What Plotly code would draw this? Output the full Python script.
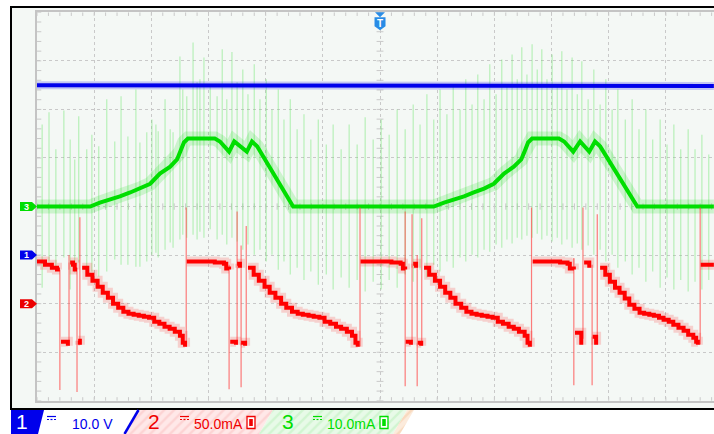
import plotly.graph_objects as go

# ======================= DATA =======================
# time axis: divisions from the left edge of the screen (trigger at 6 div)

# Channel 1 (blue) in volts
ch1_t = [0.00, 2.24, 2.26, 2.69, 2.71, 5.30, 5.32, 5.80, 5.82, 8.33, 8.35, 8.83, 8.85, 11.38, 11.40, 11.84]
ch1_v = [35.0, 35.0, 34.8, 34.8, 35.0, 35.0, 34.8, 34.8, 35.0, 35.0, 34.8, 34.8, 35.0, 35.0, 34.8, 34.8]

# Channel 2 (red) in mA  (None = break in the bold trace)
ch2_t = [
    0.00, 0.10, 0.14, 0.23, 0.26, 0.33, 0.35, 0.40, None,
    0.42, 0.54, None,
    0.58, 0.63, 0.66, 0.70, None,
    0.72, 0.75, None,
    0.79, 0.88, 0.97, 1.06, 1.15, 1.24, 1.33, 1.42, 1.51, 1.60, 1.69, 1.78, 1.87, 1.96, 2.05, 2.14, 2.23, 2.32, 2.41, 2.50, 2.55, 2.59, None,
    2.62, 2.85, 3.11, 3.27, 3.31, 3.36, None,
    3.38, 3.48, None,
    3.50, 3.55, None,
    3.57, 3.64, None,
    3.69, 3.79, 3.88, 3.98, 4.07, 4.17, 4.27, 4.36, 4.46, 4.56, 4.65, 4.75, 4.84, 4.94, 5.03, 5.13, 5.23, 5.32, 5.42, 5.51, 5.57, 5.61, None,
    5.66, 5.90, 6.20, 6.36, 6.40, 6.44, None,
    6.45, 6.54, None,
    6.58, 6.63, None,
    6.66, 6.72, None,
    6.77, 6.86, 6.96, 7.05, 7.14, 7.23, 7.32, 7.42, 7.51, 7.60, 7.69, 7.78, 7.88, 7.97, 8.06, 8.15, 8.25, 8.34, 8.43, 8.53, 8.58, 8.62, None,
    8.67, 8.90, 9.15, 9.28, 9.32, 9.39, None,
    9.41, 9.52, None,
    9.57, 9.66, None,
    9.72, 9.78, None,
    9.85, 9.94, 10.02, 10.11, 10.19, 10.28, 10.36, 10.45, 10.54, 10.62, 10.71, 10.79, 10.88, 10.96, 11.05, 11.13, 11.22, 11.31, 11.39, 11.48, 11.53, 11.56, None,
    11.61, 11.84,
]
ch2_i = [
    43.3, 43.3, 40.2, 40.2, 37.1, 37.1, 35.1, 35.1, None,
    -39.2, -43.3, None,
    42.3, 40.2, 35.1, 35.1, None,
    -38.1, -42.3, None,
    37.1, 29.9, 23.7, 17.5, 11.3, 6.2, 0.0, -4.1, -8.2, -10.3, -11.3, -12.4, -13.4, -14.4, -18.6, -20.6, -23.7, -25.8, -28.9, -33.0, -40.2, -44.3, None,
    43.3, 43.3, 42.3, 41.2, 36.1, 35.1, None,
    -39.2, -42.3, None,
    41.2, 37.1, None,
    -40.2, -43.3, None,
    37.1, 29.9, 23.7, 17.5, 11.3, 6.2, 0.0, -4.1, -8.2, -10.3, -11.3, -12.4, -13.4, -14.4, -18.6, -20.6, -23.7, -25.8, -28.9, -33.0, -40.2, -44.3, None,
    43.3, 43.3, 42.3, 41.2, 36.1, 35.1, None,
    -39.2, -42.3, None,
    41.2, 37.1, None,
    -40.2, -43.3, None,
    37.1, 29.9, 23.7, 17.5, 11.3, 6.2, 0.0, -4.1, -8.2, -10.3, -11.3, -12.4, -13.4, -14.4, -18.6, -20.6, -23.7, -25.8, -28.9, -33.0, -40.2, -44.3, None,
    43.3, 43.3, 42.3, 41.2, 36.1, 35.1, None,
    -29.9, -42.3, None,
    42.3, 37.1, None,
    -34.0, -42.3, None,
    37.1, 29.9, 22.7, 16.5, 11.3, 5.2, -1.0, -5.2, -9.3, -10.3, -11.3, -12.4, -14.4, -16.5, -18.6, -21.6, -24.7, -27.8, -32.0, -35.1, -39.2, -42.3, None,
    40.2, 40.2,
]
# thin fast transients on channel 2 (time, top mA, bottom mA)
ch2_spk_t = [0.40, 0.56, 0.70, 0.75, 2.61, 3.36, 3.50, 3.57, 3.66, 5.65, 6.44, 6.56, 6.65, 6.73, 8.65, 9.39, 9.55, 9.71, 9.80, 11.60]
ch2_spk_hi = [35, 50, 37, 89, 99, 40, 95, 60, 80, 99, 95, 92, 50, 88, 99, 47, 99, 40, 92, 99]
ch2_spk_lo = [-89, -43, -91, -42, -44, -88, -42, -86, -43, -44, -85, -42, -85, -43, -44, -84, -36, -84, -35, -42]

# Channel 3 (green) in mA
ch3_t = [0.00, 0.93, 1.10, 1.28, 1.45, 1.63, 1.80, 1.98, 2.15, 2.33, 2.45, 2.50, 2.57, 2.64, 3.11, 3.20, 3.36, 3.45, 3.67, 3.76, 3.85, 4.48,
         6.94, 7.12, 7.29, 7.47, 7.64, 7.82, 7.99, 8.17, 8.34, 8.47, 8.52, 8.59, 8.66, 9.13, 9.22, 9.38, 9.50, 9.66, 9.76, 9.85, 10.50, 11.84]
ch3_i = [0.0, 0.0, 0.8, 1.4, 2.1, 2.9, 3.7, 4.7, 6.8, 8.2, 9.7, 11.1, 13.2, 14.0, 14.0, 13.4, 11.3, 13.4, 11.3, 13.4, 12.4, 0.0,
         0.0, 0.8, 1.4, 2.1, 2.9, 3.7, 4.7, 6.8, 8.2, 9.7, 11.1, 13.2, 14.0, 14.0, 13.4, 11.3, 13.4, 11.3, 13.4, 12.4, 0.0, 0.0]
# switching spikes on channel 3 (time, top mA, bottom mA)
ch3_spk_t = [0.09, 0.21, 0.33, 0.47, 0.58, 0.66, 0.73, 0.87, 0.96, 1.08, 1.22, 1.36, 1.47, 1.59, 1.73, 1.80, 1.92, 2.01, 2.08, 2.12,
             2.24, 2.33, 2.38, 2.50, 2.55, 2.62, 2.73, 2.80, 2.85, 2.92, 3.03, 3.15, 3.24, 3.32, 3.41, 3.50, 3.60, 3.69, 3.80, 3.90,
             4.01, 4.11, 4.22, 4.32, 4.43, 4.55, 4.67, 4.79, 4.92, 5.06, 5.18, 5.32, 5.46, 5.60, 5.74, 5.88, 6.02, 6.16, 6.30, 6.44,
             6.58, 6.70, 6.82, 6.94, 7.05, 7.17, 7.28, 7.40, 7.50, 7.61, 7.71, 7.82, 7.92, 8.03, 8.13, 8.22, 8.31, 8.40, 8.48, 8.57,
             8.66, 8.75, 8.83, 8.92, 9.01, 9.10, 9.18, 9.27, 9.36, 9.45, 9.53, 9.64, 9.74, 9.85, 9.95, 10.06, 10.16, 10.29, 10.41, 10.53,
             10.65, 10.77, 10.90, 11.02, 11.14, 11.26, 11.39, 11.51, 11.63, 11.75]
ch3_spk_hi = [16.9, 19.4, 11.8, 19.8, 13.8, 9.7, 18.6, 11.8, 14.8, 12.4, 22.1, 13.4, 22.7, 14.4, 24.1, 13.2, 15.3, 17.9, 16.9, 15.5,
              22.1, 15.9, 15.3, 30.9, 24.1, 22.7, 33.8, 25.6, 26.2, 30.7, 25.2, 22.7, 32.4, 22.1, 31.8, 25.6, 28.2, 23.1, 29.3, 22.1,
              26.2, 20.0, 24.1, 17.9, 22.1, 15.9, 19.0, 13.8, 17.9, 12.8, 16.9, 11.8, 16.9, 12.8, 18.4, 13.8, 17.9, 14.8, 20.0, 15.9,
              21.0, 16.9, 23.1, 17.9, 24.1, 19.0, 25.2, 20.0, 26.2, 21.0, 27.2, 22.1, 29.3, 23.1, 30.3, 25.2, 31.3, 26.2, 32.8, 27.2,
              33.4, 28.2, 32.4, 26.2, 31.3, 25.2, 32.0, 24.1, 30.7, 23.1, 29.9, 22.1, 28.2, 21.0, 26.2, 20.0, 24.1, 17.9, 22.1, 15.9,
              20.0, 13.8, 17.9, 12.8, 16.9, 11.8, 15.9, 11.8, 14.8, 10.7]
ch3_spk_lo = [-16.7, -11.3, -13.0, -10.5, -17.1, -13.6, -11.5, -12.6, -13.4, -14.4, -13.4, -10.9, -12.0, -12.0, -12.4, -12.4, -11.3, -9.9, -9.5, -10.5,
              -8.9, -7.4, -8.5, -6.8, -5.8, -6.4, -5.8, -6.8, -5.2, -6.4, -4.7, -6.8, -5.8, -7.8, -6.4, -7.2, -8.9, -7.8, -9.9, -8.9,
              -11.3, -9.9, -13.0, -11.3, -14.0, -12.6, -15.1, -13.4, -16.1, -14.0, -17.1, -14.6, -16.7, -15.1, -17.5, -15.5, -17.1, -15.1, -16.7, -14.0,
              -15.5, -13.0, -14.6, -12.0, -13.4, -11.3, -12.6, -10.5, -11.3, -9.9, -10.5, -8.9, -9.3, -7.8, -8.5, -6.8, -7.6, -6.4, -6.8, -6.0,
              -6.4, -5.6, -6.8, -6.0, -7.2, -6.4, -7.8, -6.8, -8.5, -7.6, -8.9, -8.0, -9.9, -8.9, -11.3, -9.9, -12.6, -11.3, -14.0, -12.6,
              -15.5, -13.4, -16.7, -14.6, -17.1, -15.1, -17.5, -15.5, -17.1, -15.1]

# channel settings
ch_scale = {1: 10.0, 2: 50.0, 3: 10.0}      # units per division
ch_offset = {1: -1.0, 2: -2.0, 3: 0.0}      # divisions
ch_label = {1: "10.0 V", 2: "50.0mA", 3: "10.0mA"}

# ===================== GEOMETRY =====================
W, H = 714, 434
GRID_L, GRID_T, GRID_B = 37.0, 12.3, 400.8
DXP = 57.17
DYP = (GRID_B - GRID_T) / 8.0
X_MAX = (W - GRID_L) / DXP

BLUE = "rgb(0,0,235)"
RED = "rgb(255,0,0)"
GREEN = "rgb(0,222,0)"
GRID_C = "#c9c9c9"
BG = "#f4f8f5"
FONT = "Liberation Sans, Arial, sans-serif"


def to_div(vals, ch):
    return [None if v is None else v / ch_scale[ch] + ch_offset[ch] for v in vals]


def spikes(ts, his, los, ch):
    xs, ys = [], []
    for t, h, l in zip(ts, his, los):
        xs += [t, t, None]
        ys += [h / ch_scale[ch] + ch_offset[ch], l / ch_scale[ch] + ch_offset[ch], None]
    return xs, ys


fig = go.Figure()

# ---- graticule tick marks ----
tx, ty = [], []
def seg(x0, y0, x1, y1):
    tx.extend([x0, x1, None]); ty.extend([y0, y1, None])

for k in range(0, 61):
    xv = k * 0.2
    if xv > X_MAX:
        break
    seg(xv, 4, xv, 4 - 0.075)
    seg(xv, -4, xv, -4 + 0.075)
    seg(xv, -0.065, xv, 0.065)
for k in range(0, 41):
    yv = -4 + k * 0.2
    seg(0, yv, 0.075, yv)
    seg(6 - 0.06, yv, 6 + 0.06, yv)
fig.add_trace(go.Scatter(x=tx, y=ty, mode="lines", line=dict(color=GRID_C, width=1), hoverinfo="skip"))

# ---- channel 3 (green) ----
sx, sy = spikes(ch3_spk_t, ch3_spk_hi, ch3_spk_lo, 3)
fig.add_trace(go.Scatter(x=sx, y=sy, mode="lines", line=dict(color="rgba(110,230,110,0.45)", width=1.2), hoverinfo="skip"))
fig.add_trace(go.Scatter(x=ch3_t, y=to_div(ch3_i, 3), mode="lines", line=dict(color="rgba(0,220,0,0.16)", width=14), hoverinfo="skip"))
fig.add_trace(go.Scatter(x=ch3_t, y=to_div(ch3_i, 3), mode="lines", line=dict(color=GREEN, width=4), hoverinfo="skip"))

# ---- channel 2 (red) ----
sx, sy = spikes(ch2_spk_t, ch2_spk_hi, ch2_spk_lo, 2)
fig.add_trace(go.Scatter(x=sx, y=sy, mode="lines", line=dict(color="rgba(255,70,70,0.7)", width=1.2), hoverinfo="skip"))
fig.add_trace(go.Scatter(x=ch2_t, y=to_div(ch2_i, 2), mode="lines", line=dict(color="rgba(255,0,0,0.16)", width=10, shape="hv"), hoverinfo="skip"))
fig.add_trace(go.Scatter(x=ch2_t, y=to_div(ch2_i, 2), mode="lines", line=dict(color=RED, width=4, shape="hv"), hoverinfo="skip"))

# ---- channel 1 (blue) ----
fig.add_trace(go.Scatter(x=ch1_t, y=to_div(ch1_v, 1), mode="lines", line=dict(color="rgba(0,0,235,0.2)", width=8), hoverinfo="skip"))
fig.add_trace(go.Scatter(x=ch1_t, y=to_div(ch1_v, 1), mode="lines", line=dict(color=BLUE, width=4), hoverinfo="skip"))

# ---- status bar hatch fills (pixel overlay axes) ----
def hatch(xs, ys, fg, bgc):
    fig.add_trace(go.Scatter(x=xs, y=ys, xaxis="x2", yaxis="y2", mode="lines", fill="toself",
                             line=dict(width=0, color=bgc), fillcolor=bgc,
                             fillpattern=dict(shape="/", fgcolor=fg, bgcolor=bgc, size=7, solidity=0.35),
                             hoverinfo="skip"))

hatch([139, 273, 259, 125, 139], [410, 410, 434, 434, 410], "rgb(250,190,190)", "rgb(255,232,232)")
hatch([273, 407, 393, 259, 273], [410, 410, 434, 434, 410], "rgb(185,240,185)", "rgb(232,250,232)")
hatch([407, 414, 400, 393, 407], [410, 410, 434, 434, 410], "rgb(245,200,160)", "rgb(252,235,220)")

shapes = []
ann = []

# light screen background + black frame
shapes.append(dict(type="rect", xref="paper", yref="paper", x0=11 / W, x1=1.02, y0=1 - 409 / H, y1=1 - 7 / H,
                   fillcolor=BG, line=dict(width=0), layer="below"))
shapes.append(dict(type="rect", xref="paper", yref="paper", x0=11 / W, x1=1.02, y0=1 - 409 / H, y1=1 - 7 / H,
                   line=dict(color="black", width=2), layer="above"))

# channel ground markers
tag_col = {1: BLUE, 2: "rgb(235,0,0)", 3: GREEN}
for ch in (3, 1, 2):
    yc = GRID_T + (4 - ch_offset[ch]) * DYP
    shapes.append(dict(type="path", xref="x2", yref="y2",
                       path=f"M20,{yc-4.5} L32,{yc-4.5} L37,{yc} L32,{yc+4.5} L20,{yc+4.5} Z",
                       fillcolor=tag_col[ch], line=dict(width=0)))
    ann.append(dict(xref="x2", yref="y2", x=26.5, y=yc, text=f"<b>{ch}</b>", showarrow=False,
                    font=dict(family=FONT, size=9, color="white")))

# trigger marker
tcx = GRID_L + 6 * DXP
shapes.append(dict(type="path", xref="x2", yref="y2",
                   path=f"M{tcx-5},{GRID_T} L{tcx+5},{GRID_T} L{tcx},{GRID_T+5} Z",
                   fillcolor="rgb(40,140,230)", line=dict(width=0)))
shapes.append(dict(type="path", xref="x2", yref="y2",
                   path=f"M{tcx-5.5},{GRID_T+5} L{tcx+5.5},{GRID_T+5} L{tcx+5.5},{GRID_T+14} L{tcx},{GRID_T+18} L{tcx-5.5},{GRID_T+14} Z",
                   fillcolor="rgb(40,140,230)", line=dict(width=0)))
ann.append(dict(xref="x2", yref="y2", x=tcx, y=GRID_T + 11, text="<b>T</b>", showarrow=False,
                font=dict(family=FONT, size=10, color="white")))

# status bar: channel 1
shapes.append(dict(type="path", xref="x2", yref="y2", path="M11,410 L44,410 L38,434 L11,434 Z",
                   fillcolor=BLUE, line=dict(width=0)))
shapes.append(dict(type="line", xref="x2", yref="y2", x0=138.5, y0=410, x1=124.5, y1=434,
                   line=dict(color=BLUE, width=2.5)))
ann.append(dict(xref="x2", yref="y2", x=21.5, y=421.5, text="1", showarrow=False,
                font=dict(family=FONT, size=21, color="white")))

bar_items = [(1, BLUE, None, 47, 70), (2, "rgb(240,0,0)", 154, 180, 192), (3, GREEN, 288, 313, 325)]
for ch, col, numx, dcx, lblx in bar_items:
    if numx is not None:
        ann.append(dict(xref="x2", yref="y2", x=numx, y=421.5, text=str(ch), showarrow=False,
                        font=dict(family=FONT, size=21, color=col)))
    # DC coupling symbol
    shapes.append(dict(type="line", xref="x2", yref="y2", x0=dcx, x1=dcx + 9, y0=416.5, y1=416.5,
                       line=dict(color=col, width=1.2)))
    for d in range(3):
        shapes.append(dict(type="line", xref="x2", yref="y2", x0=dcx + d * 3.5, x1=dcx + d * 3.5 + 2, y0=419.5, y1=419.5,
                           line=dict(color=col, width=1.2)))
    ann.append(dict(xref="x2", yref="y2", x=lblx, y=423.5, xanchor="left", text=ch_label[ch], showarrow=False,
                    font=dict(family=FONT, size=14, color=col)))
    if ch != 1:
        ix = lblx + 55
        shapes.append(dict(type="rect", xref="x2", yref="y2", x0=ix, x1=ix + 8, y0=416.5, y1=428.5,
                           line=dict(color=col, width=1.3), fillcolor="white"))
        shapes.append(dict(type="rect", xref="x2", yref="y2", x0=ix + 2.2, x1=ix + 5.8, y0=419, y1=426,
                           line=dict(width=0), fillcolor=col))

fig.update_layout(
    width=W, height=H, margin=dict(l=0, r=0, t=0, b=0),
    paper_bgcolor="white", plot_bgcolor="rgba(0,0,0,0)", showlegend=False,
    xaxis=dict(domain=[GRID_L / W, 1], range=[0, X_MAX], dtick=1, tick0=0, showgrid=True,
               gridcolor=GRID_C, griddash="dot", gridwidth=1, zeroline=False, showticklabels=False,
               ticks="", showline=True, linecolor="#c4c4c4", linewidth=1.5, mirror=True, fixedrange=True),
    yaxis=dict(domain=[1 - GRID_B / H, 1 - GRID_T / H], range=[-4, 4], dtick=1, tick0=-4, showgrid=True,
               gridcolor=GRID_C, griddash="dot", gridwidth=1, zeroline=False, showticklabels=False,
               ticks="", showline=True, linecolor="#c4c4c4", linewidth=1.5, mirror=False, fixedrange=True),
    xaxis2=dict(domain=[0, 1], range=[0, W], visible=False, anchor="y2", fixedrange=True),
    yaxis2=dict(domain=[0, 1], range=[H, 0], visible=False, anchor="x2", fixedrange=True),
    shapes=shapes, annotations=ann,
)

fig.write_html("out.html", config={"displayModeBar": False},
               post_script="document.body.style.margin='0';document.body.style.overflow='hidden';")
